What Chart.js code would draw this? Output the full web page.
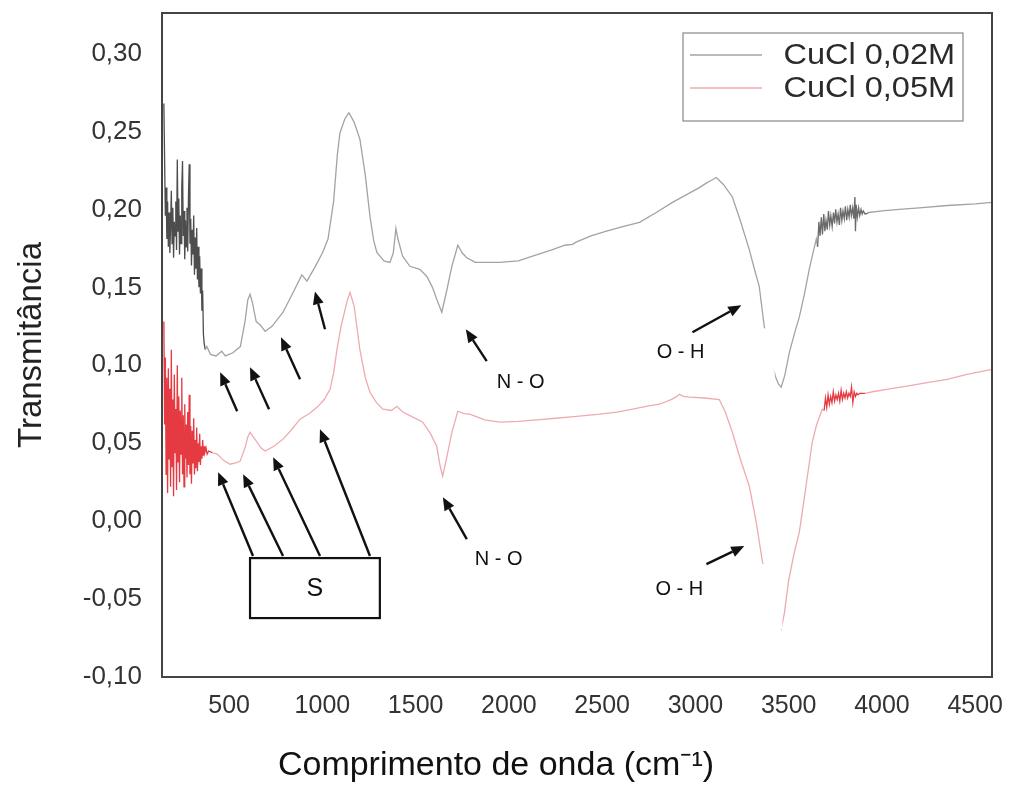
<!DOCTYPE html>
<html><head><meta charset="utf-8">
<script src="https://cdn.jsdelivr.net/npm/chart.js@4.4.1/dist/chart.umd.min.js"></script>
<style>html,body{margin:0;padding:0;background:#fff;}</style>
</head><body>
<canvas id="c" width="1010" height="798"></canvas>
<script>
// ---------- data ----------
const seriesLabels = ['CuCl 0,02M', 'CuCl 0,05M'];
const xTicks = [500, 1000, 1500, 2000, 2500, 3000, 3500, 4000, 4500];
const yTicks = [-0.10, -0.05, 0.00, 0.05, 0.10, 0.15, 0.20, 0.25, 0.30];

const grayX = [150,154,158,162,166,170,174,178,182,186,190,194,198,202,206,210,214,218,222,226,230,234,238,242,246,250,254,258,262,266,270,274,278,282,286,290,294,298,302,306,310,314,318,322,326,330,334,338,342,346,350,354,358,362,366,372,380,
400,430,460,480,520,560,585,600,612,625,645,666,693,730,789,840,890,917,960,1000,1030,1060,1080,1094,1120,1142,1170,1201,1230,1255,1275,1292,1330,1362,1380,1394,1405,1430,1469,1522,1560,1590,1613,1640,1665,1694,1726,1750,1774,1820,1860,1951,2050,2127,2230,2300,2341,2360,2440,2523,2610,2700,2790,2877,2960,3021,3060,3091,3112,3150,3198,3240,3289,3320,3342,3369,3400,3428,3445,3460,3480,3503,3530,3557,3585,3610,3630,3648,
3655,3662,3668,3675,3681,3688,3694,3700,3707,3713,3720,3726,3733,3740,3746,3752,3759,3765,3772,3778,3785,3791,3798,3804,3811,3817,3824,3830,3836,3843,3849,3855,3858,3862,3868,3875,3881,3888,3894,3900,3910,3930,
4000,4092,4200,4350,4500,4590];
const grayY = [0.268,0.232,0.196,0.214,0.181,0.205,0.176,0.198,0.172,0.189,0.212,0.178,0.201,0.169,0.192,0.183,0.205,0.174,0.232,0.186,0.207,0.171,0.196,0.178,0.214,0.231,0.183,0.199,0.168,0.193,0.176,0.201,0.173,0.209,0.229,0.178,0.194,0.164,0.187,0.171,0.196,0.158,0.182,0.162,0.188,0.155,0.176,0.150,0.170,0.146,0.162,0.135,0.148,0.120,0.114,0.110,0.112,
0.107,0.106,0.109,0.106,0.108,0.112,0.128,0.142,0.1455,0.140,0.128,0.126,0.1218,0.125,0.134,0.146,0.158,0.154,0.163,0.172,0.181,0.205,0.235,0.249,0.258,0.262,0.256,0.245,0.222,0.1955,0.180,0.1724,0.167,0.166,0.172,0.1878,0.181,0.170,0.1635,0.1615,0.157,0.150,0.1423,0.134,0.147,0.1635,0.177,0.172,0.169,0.166,0.166,0.166,0.167,0.170,0.174,0.177,0.1776,0.179,0.183,0.186,0.189,0.1917,0.198,0.2045,0.210,0.214,0.217,0.219,0.2205,0.216,0.208,0.193,0.174,0.160,0.1506,0.125,0.108,0.093,0.088,0.086,0.094,0.108,0.120,0.131,0.146,0.1615,0.172,0.181,
0.176,0.192,0.183,0.195,0.184,0.197,0.186,0.193,0.187,0.199,0.190,0.196,0.189,0.198,0.191,0.200,0.192,0.197,0.190,0.201,0.193,0.199,0.194,0.202,0.193,0.200,0.195,0.203,0.196,0.201,0.194,0.208,0.186,0.203,0.195,0.201,0.196,0.200,0.197,0.199,0.197,0.198,
0.199,0.200,0.201,0.2025,0.2035,0.2045];

const redX = [150,154,158,162,166,170,174,178,182,186,190,194,198,202,206,210,214,218,222,226,230,234,238,242,246,250,254,258,262,266,270,274,278,282,286,290,294,298,302,306,310,314,318,322,326,330,334,338,342,346,350,354,358,362,366,370,376,382,390,
410,436,470,505,540,559,585,600,612,630,650,670,693,740,789,830,880,930,971,1010,1041,1060,1078,1100,1132,1148,1170,1201,1230,1255,1290,1324,1370,1399,1431,1480,1538,1580,1613,1630,1645,1665,1694,1726,1760,1790,1870,1951,2050,2150,2250,2350,2486,2580,2663,2750,2807,2870,2900,2914,2935,2968,3050,3128,3160,3198,3240,3289,3325,3359,3400,3440,3460,3476,3500,3530,3557,3590,3626,3650,3680,
3690,3697,3704,3711,3718,3725,3732,3739,3746,3753,3760,3767,3774,3781,3788,3795,3802,3809,3816,3823,3830,3837,3844,3851,3858,3865,3872,3880,3890,3910,
3950,4050,4150,4250,4350,4450,4590];
const redY = [0.128,0.062,0.105,0.030,0.092,0.018,0.098,0.040,0.085,0.022,0.110,0.035,0.078,0.016,0.094,0.044,0.072,0.020,0.100,0.038,0.080,0.025,0.071,0.043,0.092,0.030,0.068,0.022,0.075,0.040,0.062,0.028,0.070,0.036,0.081,0.030,0.061,0.024,0.058,0.037,0.066,0.030,0.052,0.034,0.060,0.032,0.050,0.038,0.056,0.036,0.048,0.040,0.052,0.042,0.048,0.044,0.047,0.043,0.045,
0.044,0.043,0.039,0.0365,0.0375,0.0385,0.047,0.054,0.057,0.054,0.0506,0.047,0.045,0.048,0.0526,0.058,0.0654,0.069,0.073,0.078,0.0846,0.095,0.110,0.125,0.141,0.1468,0.138,0.110,0.092,0.0827,0.076,0.0718,0.071,0.0737,0.070,0.067,0.0635,0.056,0.048,0.036,0.0288,0.040,0.057,0.0705,0.069,0.0686,0.065,0.0635,0.064,0.065,0.066,0.067,0.0686,0.070,0.0718,0.074,0.075,0.078,0.0800,0.0814,0.0800,0.0795,0.079,0.078,0.070,0.057,0.040,0.0224,0.000,-0.026,-0.048,-0.064,-0.069,-0.0596,-0.038,-0.020,-0.007,0.020,0.0506,0.062,0.0718,
0.071,0.079,0.073,0.081,0.075,0.080,0.076,0.083,0.077,0.081,0.078,0.082,0.077,0.084,0.078,0.082,0.079,0.083,0.079,0.082,0.080,0.086,0.076,0.083,0.080,0.082,0.081,0.082,0.082,0.082,
0.083,0.085,0.087,0.089,0.091,0.094,0.0974];

// annotations (data coordinates: wavenumber, transmittance)
const arrowList = [
  [543,0.0705,452,0.0955],[714,0.0718,612,0.0987],[880,0.0910,778,0.1179],[1014,0.1231,960,0.1474],
  [1881,0.1026,1769,0.1231],[2984,0.1212,3246,0.1385],
  [628,-0.0224,441,0.0314],[789,-0.0224,575,0.0301],[987,-0.0224,736,0.0410],[1255,-0.0224,987,0.0590],
  [1774,-0.0115,1646,0.0154],[3059,-0.0276,3262,-0.016]
];
const textLabels = [
  ['N - O',2063,0.0891],['N - O',1945,-0.0244],['O - H',2920,0.1083],['O - H',2914,-0.0436]
];
const sBox = {text:'S', x0:612, x1:1308, y0:-0.0237, y1:-0.0622};
const masks = [[3021,3425,0.1237,0.0923],[2647,3466,-0.0276,-0.0692]];

// ---------- chart ----------
const FONT = '"Liberation Sans", Arial, Helvetica, sans-serif';
Chart.defaults.font.family = FONT;

const toPts = (xs, ys) => xs.map((x, i) => ({x, y: ys[i]}));
const isNoiseGray = x => x < 372 || (x > 3650 && x < 3925);
const isNoiseRed = x => x < 395 || (x > 3685 && x < 3905);
const noPad = s => { s.paddingTop = 0; s.paddingBottom = 0; s.paddingLeft = 0; s.paddingRight = 0; };

const annotPlugin = {
  id: 'annot',
  afterDatasetsDraw(chart) {
    const {ctx, scales: {x, y}} = chart;
    const px = v => x.getPixelForValue(v), py = v => y.getPixelForValue(v);
    ctx.save();
    ctx.fillStyle = '#fff';
    masks.forEach(m => {
      const a = px(m[0]), b = px(m[1]), c = py(m[2]), d = py(m[3]);
      ctx.fillRect(a, c, b - a, d - c);
    });
    ctx.strokeStyle = '#111'; ctx.fillStyle = '#111'; ctx.lineWidth = 2.4;
    arrowList.forEach(r => {
      const x0 = px(r[0]), y0 = py(r[1]), x1 = px(r[2]), y1 = py(r[3]);
      const ang = Math.atan2(y1 - y0, x1 - x0), hl = 13, hw = 5.5;
      const bx = x1 - hl * Math.cos(ang), by = y1 - hl * Math.sin(ang);
      ctx.beginPath(); ctx.moveTo(x0, y0); ctx.lineTo(bx, by); ctx.stroke();
      ctx.beginPath(); ctx.moveTo(x1, y1);
      ctx.lineTo(bx + hw * Math.sin(ang), by - hw * Math.cos(ang));
      ctx.lineTo(bx - hw * Math.sin(ang), by + hw * Math.cos(ang));
      ctx.closePath(); ctx.fill();
    });
    // S box
    const sx0 = px(sBox.x0), sx1 = px(sBox.x1), sy0 = py(sBox.y0), sy1 = py(sBox.y1);
    ctx.fillStyle = '#fff'; ctx.fillRect(sx0, sy0, sx1 - sx0, sy1 - sy0);
    ctx.lineWidth = 2.2; ctx.strokeStyle = '#111'; ctx.strokeRect(sx0, sy0, sx1 - sx0, sy1 - sy0);
    ctx.fillStyle = '#111'; ctx.textAlign = 'center'; ctx.textBaseline = 'middle';
    ctx.font = '25px ' + FONT;
    ctx.fillText(sBox.text, (sx0 + sx1) / 2, (sy0 + sy1) / 2 + 1);
    ctx.font = '20px ' + FONT;
    textLabels.forEach(t => ctx.fillText(t[0], px(t[1]), py(t[2])));
    ctx.restore();
  },
  afterDraw(chart) {
    const {ctx, chartArea: ca} = chart;
    ctx.save();
    ctx.strokeStyle = '#444'; ctx.lineWidth = 2;
    ctx.strokeRect(ca.left, ca.top, ca.right - ca.left, ca.bottom - ca.top);
    // legend
    const bx = ca.right - 309, by = ca.top + 20, bw = 280, bh = 88;
    ctx.fillStyle = '#fff'; ctx.fillRect(bx, by, bw, bh);
    ctx.strokeStyle = '#888'; ctx.lineWidth = 1.2; ctx.strokeRect(bx, by, bw, bh);
    chart.data.datasets.forEach((ds, i) => {
      const ly = by + 22 + i * 33;
      ctx.strokeStyle = ds.legendColor; ctx.lineWidth = 1.3;
      ctx.beginPath(); ctx.moveTo(bx + 7, ly); ctx.lineTo(bx + 79, ly); ctx.stroke();
      ctx.save();
      ctx.translate(bx + bw - 8, ly + 1);
      ctx.scale(1.12, 1);
      ctx.fillStyle = '#2a2a2a'; ctx.font = '29px ' + FONT;
      ctx.textAlign = 'right'; ctx.textBaseline = 'middle';
      ctx.fillText(ds.label, 0, 0);
      ctx.restore();
    });
    ctx.restore();
  }
};

new Chart(document.getElementById('c'), {
  type: 'line',
  data: {
    datasets: [
      {label: seriesLabels[0], data: toPts(grayX, grayY), borderWidth: 1.3, pointRadius: 0, tension: 0,
       borderColor: '#a3a3a3', legendColor: '#a3a3a3',
       segment: {borderColor: c => isNoiseGray(c.p0.parsed.x) ? (c.p0.parsed.x < 1000 ? '#4d4d4d' : '#6a6a6a') : '#a3a3a3'}},
      {label: seriesLabels[1], data: toPts(redX, redY), borderWidth: 1.3, pointRadius: 0, tension: 0,
       borderColor: '#eeaab0', legendColor: '#eeaab0',
       segment: {borderColor: c => isNoiseRed(c.p0.parsed.x) ? '#e53a42' : '#eeaab0'}}
    ]
  },
  options: {
    responsive: false, animation: false, devicePixelRatio: 1,
    layout: {padding: {top: 13, right: 18, left: 0, bottom: 0}},
    plugins: {
      legend: {display: false}, tooltip: {enabled: false},
      title: {display: true, position: 'bottom', text: 'Comprimento de onda (cm⁻¹)', color: '#111',
              font: {size: 34, weight: 'normal', family: FONT}, padding: {top: 0, bottom: 12}}
    },
    scales: {
      x: {type: 'linear', min: 140, max: 4590,
          afterBuildTicks: s => { s.ticks = xTicks.map(v => ({value: v})); },
          afterFit: s => { s.height = 68.2; noPad(s); },
          grid: {display: false, drawTicks: false}, border: {display: false},
          ticks: {padding: 14, color: '#333', font: {size: 25}, maxRotation: 0, autoSkip: false, callback: v => String(v)}},
      y: {type: 'linear', min: -0.10, max: 0.326,
          afterBuildTicks: s => { s.ticks = yTicks.map(v => ({value: v})); },
          afterFit: s => { s.width = 162; noPad(s); },
          grid: {display: false, drawTicks: false}, border: {display: false},
          ticks: {padding: 20, color: '#333', font: {size: 26}, autoSkip: false, callback: v => v.toFixed(2).replace('.', ',')},
          title: {display: true, text: 'Transmitância', color: '#222', font: {size: 33}, padding: {top: 12, bottom: 0}}}
    }
  },
  plugins: [annotPlugin]
});
</script>
</body></html>
